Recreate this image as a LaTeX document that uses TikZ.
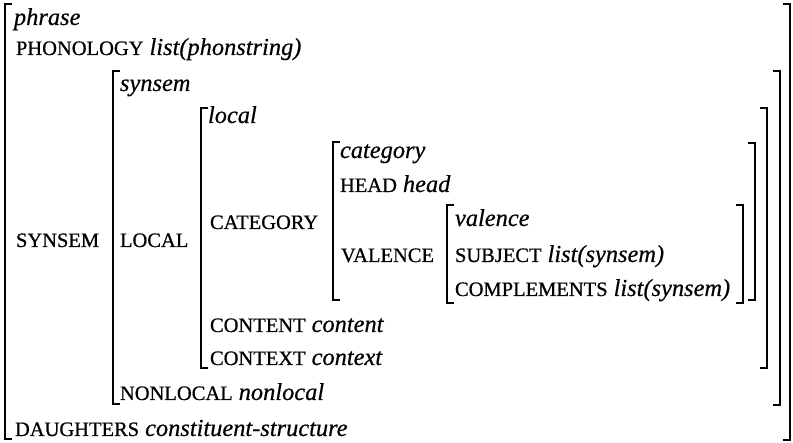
\documentclass[tikz,border=0pt]{standalone}
\usepackage{fontspec}
\setmainfont{Liberation Serif}
% attribute names in capitals, types in italics, both set slightly heavy
\newcommand{\ft}[1]{{\fontsize{20.5}{24}\selectfont\addfontfeatures{FakeBold=0.7}#1}}
\newcommand{\ty}[1]{{\fontsize{24.4}{28}\selectfont\itshape\addfontfeatures{FakeBold=0.5}#1}}
\newcommand{\sep}{\hspace{6pt}}
\tikzset{
  row/.style={anchor=base west, inner sep=0pt, outer sep=0pt},
  brk/.style={line width=2.4pt, line cap=butt, line join=miter},
}
\begin{document}
\begin{tikzpicture}[x=1pt, y=-1pt]
\useasboundingbox (0,0) rectangle (793,443);

% outermost matrix: phrase
\node[row] (phr)  at (14,25)  {\ty{phrase}};
\node[row] (phon) at (16,55)  {\ft{PHONOLOGY}\sep\ty{list(phonstring)}};
\node[row] (ssm)  at (16,247) {\ft{SYNSEM}};
\node[row] (dtr)  at (15,436) {\ft{DAUGHTERS}\sep\ty{constituent-structure}};
\draw[brk] (12,4) -- (5,4) -- (5,439) -- (12,439);
\draw[brk] (783,4) -- (790,4) -- (790,440) -- (783,440);

% synsem matrix
\node[row] (syn)  at (120,91)  {\ty{synsem}};
\node[row] (loc)  at (120,247) {\ft{LOCAL}};
\node[row] (nloc) at (120,400) {\ft{NONLOCAL}\sep\ty{nonlocal}};
\draw[brk] (120,71) -- (113,71) -- (113,404) -- (120,404);
\draw[brk] (773,71) -- (780,71) -- (780,405) -- (773,405);

% local matrix
\node[row] (lcl)  at (208,123) {\ty{local}};
\node[row] (cat)  at (210,229) {\ft{CATEGORY}};
\node[row] (cont) at (210,332) {\ft{CONTENT}\sep\ty{content}};
\node[row] (ctx)  at (210,365) {\ft{CONTEXT}\sep\ty{context}};
\draw[brk] (208,108) -- (201,108) -- (201,368) -- (208,368);
\draw[brk] (760,108) -- (767,108) -- (767,368) -- (760,368);

% category matrix
\node[row] (ctg)  at (340,158) {\ty{category}};
\node[row] (head) at (340,192) {\ft{HEAD}\sep\ty{head}};
\node[row] (val)  at (341,262) {\ft{VALENCE}};
\draw[brk] (340,142) -- (333,142) -- (333,300) -- (340,300);
\draw[brk] (748,143) -- (755,143) -- (755,300) -- (748,300);

% valence matrix
\node[row] (vl)   at (455,226) {\ty{valence}};
\node[row] (subj) at (455,262) {\ft{SUBJECT}\sep\ty{list(synsem)}};
\node[row] (comp) at (455,296) {\ft{COMPLEMENTS}\sep\ty{list(synsem)}};
\draw[brk] (454,205) -- (447,205) -- (447,303) -- (454,303);
\draw[brk] (736,205) -- (743,205) -- (743,303) -- (736,303);
\end{tikzpicture}
\end{document}
